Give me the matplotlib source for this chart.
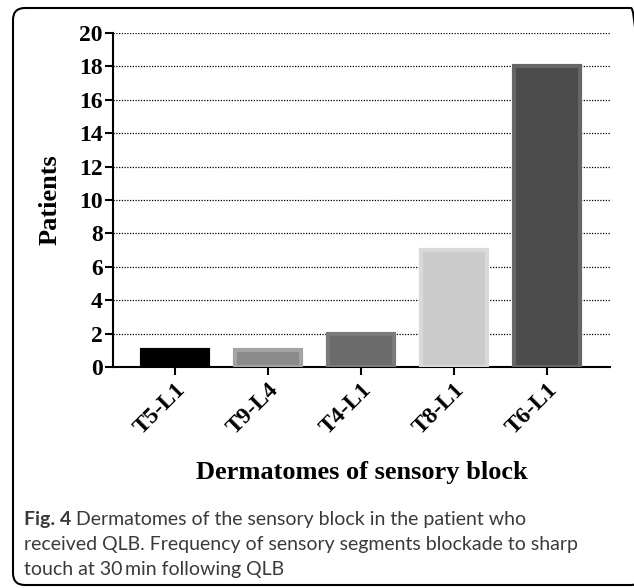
import matplotlib.pyplot as plt
from matplotlib.patches import FancyBboxPatch

# data
categories = ['T5-L1', 'T9-L4', 'T4-L1', 'T8-L1', 'T6-L1']
patients = [1, 1, 2, 7, 18]
face_colors = ['#000000', '#8a8a8a', '#6b6b6b', '#cbcbcb', '#4b4b4b']
edge_colors = ['#000000', '#a3a3a3', '#7a7a7a', '#d9d9d9', '#666666']
y_ticks = list(range(0, 21, 2))

W, H = 634, 588
fig = plt.figure(figsize=(W / 100, H / 100), dpi=100)

# rounded frame (coords in inches, 100 px per inch)
frame = FancyBboxPatch((0.13, (H - 585) / 100), 6.30, 5.77,
                       boxstyle='round,pad=0,rounding_size=0.12',
                       transform=fig.dpi_scale_trans, fill=False,
                       edgecolor='black', linewidth=1.5, clip_on=False)
fig.patches.append(frame)

ax = fig.add_axes([113 / W, 1 - 367 / H, 497 / W, 334 / H])
x = range(len(categories))
ax.bar(x, patients, width=0.71, color=face_colors, edgecolor=edge_colors,
       linewidth=3, zorder=3)

ax.set_xlim(-0.667, 4.677)
ax.set_ylim(0, 20)
ax.set_yticks(y_ticks)
ax.set_xticks(list(x))
ax.yaxis.grid(True, linestyle=(0, (1, 1.2)), color='black', linewidth=0.9, zorder=0)

serif = {'family': 'Liberation Serif', 'weight': 'bold'}
ax.set_yticklabels([str(v) for v in y_ticks], fontdict=serif, fontsize=17)
ax.set_xticklabels(categories, fontdict=serif, fontsize=17, rotation=45,
                   ha='right', rotation_mode='anchor')

for s in ['top', 'right']:
    ax.spines[s].set_visible(False)
for s in ['left', 'bottom']:
    ax.spines[s].set_linewidth(1.5)
ax.tick_params(axis='y', length=6, width=1.5, pad=1.5)
ax.tick_params(axis='x', length=6, width=1.5, pad=3)

ax.set_ylabel('Patients', fontdict=serif, fontsize=19)
ax.yaxis.set_label_coords(-0.127, 0.5)
ax.yaxis.label.set_va('center')
ax.set_xlabel('Dermatomes of sensory block', fontdict=serif, fontsize=19)
ax.xaxis.set_label_coords(0.5, -0.315)
ax.xaxis.label.set_va('center')

# caption
cap = {'family': 'Lato', 'size': 14, 'color': '#3a3a3a', 'va': 'baseline'}
x0 = 24 / W
fig_lbl = fig.text(x0, 1 - 525 / H, 'Fig. 4', fontweight='bold', **cap)
r = fig.canvas.get_renderer()
bb = fig_lbl.get_window_extent(r)
fig.text((bb.x1 + 5) / W, 1 - 525 / H,
         'Dermatomes of the sensory block in the patient who', **cap)
fig.text(x0, 1 - 550 / H,
         'received QLB. Frequency of sensory segments blockade to sharp', **cap)
fig.text(x0, 1 - 575 / H, 'touch at 30\u2009min following QLB', **cap)

fig.savefig('out.png', dpi=100)
